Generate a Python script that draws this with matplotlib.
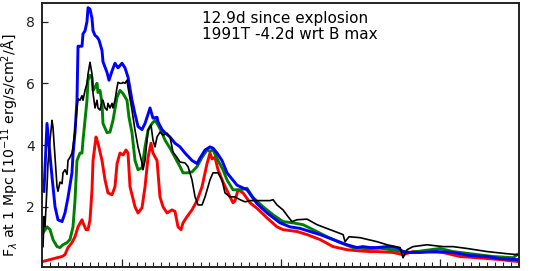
import matplotlib
matplotlib.use("Agg")
import matplotlib.pyplot as plt
from matplotlib.ticker import MultipleLocator

# ---- data (wavelength in Angstrom, flux in 1e-11 erg/s/cm^2/A) ----
blue_wave = [3025, 3063, 3126, 3164, 3201, 3252, 3289, 3327, 3377, 3390, 3415, 3440, 3453, 3478,
             3503, 3516, 3541, 3566, 3579, 3604, 3629, 3642, 3667, 3692, 3717, 3755, 3767, 3818,
             3843, 3881, 3918, 3956, 4006, 4044, 4082, 4132, 4170, 4208, 4258, 4296, 4334, 4359,
             4396, 4447, 4459, 4510, 4547, 4610, 4673, 4736, 4799, 4887, 4950, 4988, 5051, 5113,
             5151, 5202, 5264, 5327, 5453, 5579, 5705, 5831, 5994, 6120, 6246, 6371, 6497, 6661,
             6837, 6963, 7038, 7126, 7214, 7340, 7466, 7541, 7629, 7755, 7969, 8170, 8384, 8598,
             8762, 8976]
blue_flux = [2.5, 4.7, 2.97, 2.0, 1.58, 1.52, 1.8, 2.3, 3.1, 3.7, 4.4, 5.45, 7.2, 7.2,
             7.2, 7.6, 7.7, 8.0, 8.45, 8.4, 8.1, 7.7, 7.55, 7.5, 7.4, 7.06, 6.7, 6.35,
             6.1, 6.4, 6.65, 6.5, 6.65, 6.5, 6.2, 5.45, 5.0, 4.6, 4.5, 4.7, 5.0, 5.2,
             4.87, 4.9, 4.75, 4.5, 4.4, 4.26, 4.06, 3.94, 3.74, 3.5, 3.4, 3.58, 3.84, 3.94,
             3.9, 3.74, 3.5, 3.1, 2.7, 2.55, 2.1, 1.8, 1.48, 1.35, 1.3, 1.2, 1.1, 0.94,
             0.77, 0.68, 0.71, 0.68, 0.68, 0.71, 0.68, 0.55, 0.52, 0.52, 0.55, 0.52, 0.42, 0.39,
             0.32, 0.29]

green_wave = [3013, 3063, 3101, 3138, 3189, 3226, 3264, 3315, 3352, 3390, 3415, 3440, 3478, 3503,
              3516, 3541, 3566, 3579, 3604, 3629, 3642, 3667, 3692, 3704, 3730, 3755, 3767, 3818,
              3855, 3893, 3944, 3981, 4019, 4069, 4094, 4132, 4170, 4208, 4258, 4296, 4334, 4384,
              4422, 4459, 4510, 4547, 4610, 4673, 4736, 4774, 4837, 4887, 4950, 5013, 5076, 5113,
              5151, 5214, 5277, 5327, 5403, 5491, 5579, 5655, 5780, 5906, 6032, 6158, 6283, 6409,
              6585, 6749, 6912, 7088, 7252, 7466, 7629, 8006, 8170, 8384, 8673, 8925, 8976]
green_flux = [1.16, 1.35, 1.26, 0.94, 0.71, 0.68, 0.77, 0.84, 0.94, 1.35, 2.2, 3.5, 3.74, 3.74,
              4.16, 4.8, 5.45, 6.1, 6.26, 6.2, 5.77, 5.87, 6.0, 5.7, 5.77, 5.35, 4.7, 4.4,
              4.42, 4.8, 5.55, 5.77, 5.67, 5.45, 4.9, 4.4, 3.5, 3.2, 3.26, 3.94, 4.48, 4.7,
              4.8, 4.65, 4.4, 4.16, 3.9, 3.6, 3.3, 3.1, 3.1, 3.13, 3.3, 3.6, 3.84, 3.8,
              3.84, 3.5, 3.2, 2.87, 2.55, 2.55, 2.6, 2.3, 2.0, 1.74, 1.52, 1.48, 1.42, 1.26,
              1.03, 0.84, 0.68, 0.64, 0.66, 0.58, 0.52, 0.65, 0.55, 0.48, 0.39, 0.35, 0.45]

red_wave = [3013, 3101, 3189, 3252, 3289, 3327, 3377, 3415, 3453, 3503, 3516, 3554, 3579, 3604,
            3629, 3642, 3679, 3704, 3755, 3793, 3830, 3881, 3918, 3944, 3981, 4019, 4057, 4082,
            4107, 4170, 4208, 4258, 4296, 4334, 4371, 4396, 4447, 4484, 4522, 4573, 4635, 4673,
            4711, 4749, 4774, 4824, 4887, 4950, 5013, 5076, 5113, 5139, 5176, 5214, 5277, 5365,
            5403, 5428, 5466, 5529, 5617, 5705, 5831, 5956, 6032, 6208, 6334, 6497, 6661, 6837,
            7000, 7126, 7214, 7416, 7541, 7667, 7843, 8044, 8258, 8472, 8762, 8976]
red_flux = [0.23, 0.29, 0.35, 0.39, 0.45, 0.68, 0.84, 1.03, 1.35, 1.58, 1.48, 1.26, 1.26, 1.58,
            2.55, 3.5, 4.26, 4.06, 3.5, 2.87, 2.45, 2.39, 2.65, 3.4, 3.74, 3.68, 3.84, 3.74,
            2.65, 2.0, 1.8, 1.97, 2.65, 3.6, 4.06, 3.74, 3.5, 2.32, 2.0, 1.8, 1.9, 1.85,
            1.35, 1.26, 1.48, 1.68, 1.9, 2.2, 2.65, 3.4, 3.74, 3.55, 3.6, 3.2, 2.8, 2.32,
            2.13, 2.2, 2.55, 2.45, 2.13, 1.95, 1.64, 1.35, 1.26, 1.2, 1.1, 0.94, 0.71, 0.61,
            0.57, 0.55, 0.55, 0.52, 0.45, 0.55, 0.55, 0.52, 0.39, 0.35, 0.29, 0.23]

black_wave = [3013, 3025, 3038, 3063, 3075, 3101, 3126, 3138, 3164, 3189, 3201, 3226, 3252, 3264,
              3289, 3315, 3327, 3352, 3377, 3390, 3415, 3440, 3453, 3478, 3503, 3516, 3541, 3566,
              3579, 3604, 3629, 3642, 3667, 3692, 3704, 3730, 3755, 3767, 3793, 3818, 3830, 3855,
              3881, 3893, 3918, 3944, 3956, 3981, 4006, 4019, 4044, 4069, 4082, 4132, 4170, 4208,
              4258, 4271, 4296, 4334, 4371, 4396, 4422, 4447, 4484, 4522, 4573, 4610, 4648, 4698,
              4736, 4799, 4837, 4887, 4925, 4963, 5013, 5051, 5113, 5151, 5214, 5264, 5302, 5365,
              5428, 5491, 5554, 5617, 5742, 5868, 5906, 5956, 6032, 6095, 6145, 6208, 6334, 6460,
              6623, 6787, 6812, 6862, 7000, 7214, 7340, 7504, 7541, 7592, 7667, 7843, 8044, 8170,
              8346, 8598, 8850, 8976]
black_flux = [0.71, 1.68, 1.35, 2.65, 3.4, 4.16, 4.8, 4.58, 3.6, 2.65, 2.5, 2.8, 2.75, 3.1,
              3.2, 3.05, 3.5, 3.6, 3.74, 3.94, 4.48, 5.2, 5.5, 5.45, 5.6, 5.45, 5.77, 6.0,
              6.3, 6.68, 6.3, 5.67, 5.2, 5.45, 5.2, 5.13, 5.45, 5.45, 5.2, 5.13, 5.35, 5.2,
              5.35, 5.2, 5.45, 5.87, 6.03, 6.0, 6.0, 6.03, 6.0, 6.1, 5.87, 5.13, 4.48, 3.94,
              3.42, 3.2, 3.5, 4.48, 4.65, 4.16, 3.94, 4.26, 4.42, 4.32, 4.38, 4.26, 3.77, 3.6,
              3.45, 3.42, 3.3, 2.87, 2.32, 2.06, 2.06, 2.32, 2.87, 3.1, 3.1, 2.87, 2.45, 2.32,
              2.32, 2.23, 2.16, 2.2, 2.2, 2.2, 2.23, 2.06, 1.9, 1.68, 1.52, 1.58, 1.6, 1.42,
              1.26, 1.1, 0.87, 1.03, 1.0, 0.87, 0.77, 0.68, 0.35, 0.61, 0.71, 0.77, 0.71, 0.71,
              0.65, 0.55, 0.48, 0.45]

annotation_lines = ["12.9d since explosion", "1991T -4.2d wrt B max"]
ylabel_text = r"F$_\lambda$ at 1 Mpc [10$^{-11}$ erg/s/cm$^2$/Å]"
yticks = [2, 4, 6, 8]

# ---- figure ----
fig = plt.figure(figsize=(5.38, 2.71), dpi=100)
ax = fig.add_axes([42 / 538, 1 - 267 / 271, 477 / 538, 264 / 271])

ax.plot(red_wave, red_flux, color="#ff0000", lw=2.1, solid_joinstyle="round")
ax.plot(green_wave, green_flux, color="#008000", lw=2.1, solid_joinstyle="round")
ax.plot(blue_wave, blue_flux, color="#0000ff", lw=2.1, solid_joinstyle="round")
ax.plot(black_wave, black_flux, color="black", lw=1.2, solid_joinstyle="round")

ax.set_xlim(3000, 9000)
ax.set_ylim(0.05, 8.6)

ax.xaxis.set_major_locator(MultipleLocator(2000))
ax.xaxis.set_minor_locator(MultipleLocator(100))
ax.set_yticks(yticks)
ax.tick_params(axis="both", which="both", direction="in", top=False, right=False,
               labelbottom=False, labelsize=10, colors="#222222")
ax.tick_params(axis="x", which="major", length=6, width=0.9)
ax.tick_params(axis="x", which="minor", length=3.5, width=0.8)
ax.tick_params(axis="y", which="major", length=4, width=0.9, pad=5)

for sp in ax.spines.values():
    sp.set_linewidth(1.4)
    sp.set_color("#222222")

ax.set_ylabel(ylabel_text, fontsize=10.2, va="center")
ax.yaxis.set_label_coords(-0.066, 0.46)

ax.text(0.335, 0.97, "\n".join(annotation_lines), transform=ax.transAxes,
        ha="left", va="top", fontsize=11, linespacing=1.1)

fig.savefig("out.png", dpi=100)
